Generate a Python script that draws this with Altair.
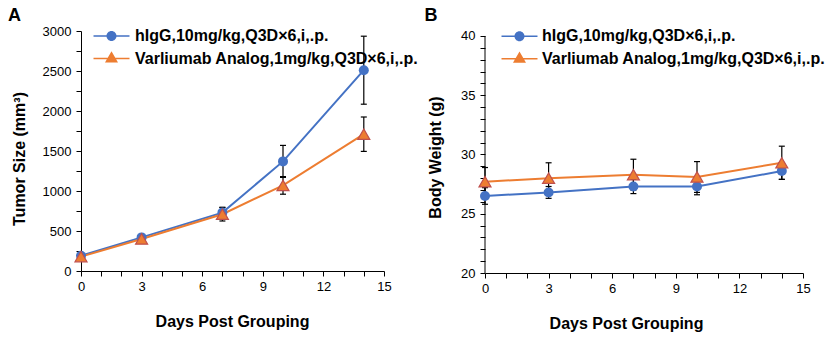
import altair as alt
import pandas as pd

# ---------------- data ----------------
days = [0, 3, 7, 10, 14]
series_names = ["hIgG,10mg/kg,Q3D×6,i,.p.", "Varliumab Analog,1mg/kg,Q3D×6,i,.p."]
series_colors = ["#4472C4", "#ED7D31"]

tumor_igg = [190, 420, 730, 1370, 2510]
tumor_igg_err = [25, 30, 65, 200, 425]
tumor_var = [180, 400, 710, 1070, 1710]
tumor_var_err = [20, 30, 85, 110, 215]

bw_igg = [26.5, 26.8, 27.3, 27.3, 28.6]
bw_igg_err = [0.7, 0.5, 0.6, 0.7, 0.7]
bw_var = [27.7, 28.0, 28.3, 28.1, 29.3]
bw_var_err = [1.2, 1.3, 1.3, 1.3, 1.4]

x_ticks = list(range(0, 16))
tumor_ticks = list(range(0, 3001, 250))
bw_ticks = list(range(20, 41))

FONT = "Liberation Sans"

# legend symbols: line + marker as one filled path
CIRC_PATH = ("M-1.6,-0.06H-0.3V0.06H-1.6Z M0.3,-0.06H1.6V0.06H0.3Z "
             "M-0.444,0A0.444 0.444 0 1 1 0.444,0A0.444 0.444 0 1 1 -0.444,0Z")
TRI_PATH = ("M-1.6,-0.06H-0.3V0.06H-1.6Z M0.3,-0.06H1.6V0.06H0.3Z "
            "M0,-0.65L0.578,0.356L-0.578,0.356Z")


def frame(a, ea, b, eb):
    rows = []
    for d, v, e in zip(days, a, ea):
        rows.append({"day": d, "value": v, "lo": v - e, "hi": v + e, "series": series_names[0]})
    for d, v, e in zip(days, b, eb):
        rows.append({"day": d, "value": v, "lo": v - e, "hi": v + e, "series": series_names[1]})
    return pd.DataFrame(rows)


def panel(df, y_title, y_domain, y_scale_domain, y_ticks, label_step, width, height, letter,
          legend_x, legend_y, label_offset, x_title_x, y_title_y, y_title_pad, draw_axis_rule):
    base = alt.Chart(df)
    x = alt.X("day:Q", scale=alt.Scale(domain=[0, 15], nice=False),
              axis=alt.Axis(values=x_ticks, format="d",
                            labelExpr="datum.value % 3 == 0 ? datum.label : ''",
                            labelFlush=False, labelOverlap=False, labelPadding=4,
                            title="Days Post Grouping", titlePadding=20, titleX=x_title_x))
    yaxis = alt.Axis(values=y_ticks, format="d",
                     labelExpr=f"datum.value % {label_step} == 0 ? datum.label : ''",
                     labelFlush=False, labelOverlap=False, labelPadding=5,
                     domain=not draw_axis_rule,
                     title=y_title, titlePadding=y_title_pad, titleY=y_title_y)
    yscale = alt.Scale(domain=y_scale_domain, nice=False, zero=False)
    y = alt.Y("value:Q", scale=yscale, axis=yaxis)

    layers = []
    if draw_axis_rule:
        axis_df = pd.DataFrame({"day": [0], "lo": [y_domain[0]], "hi": [y_domain[1]]})
        layers.append(alt.Chart(axis_df).mark_rule(color="black", strokeWidth=1).encode(
            x=x, y=alt.Y("lo:Q", scale=yscale, axis=yaxis), y2="hi:Q"))

    for name, col in zip(series_names, series_colors):
        layers.append(base.transform_filter(alt.datum.series == name)
                      .mark_line(color=col, strokeWidth=2).encode(x=x, y=y))
    layers.append(base.mark_errorbar(
        ticks=alt.MarkConfig(color="black", opacity=1, strokeWidth=1.2),
        rule=alt.MarkConfig(color="black", opacity=1, strokeWidth=1.2),
        size=6, thickness=1.2, color="black").encode(
        x=x, y=alt.Y("lo:Q", scale=yscale, axis=yaxis), y2="hi:Q"))
    layers.append(base.transform_filter(alt.datum.series == series_names[0]).mark_point(
        shape="circle", filled=True, size=100, color=series_colors[0], opacity=1).encode(x=x, y=y))
    layers.append(base.transform_filter(alt.datum.series == series_names[1]).mark_point(
        shape="triangle-up", filled=True, size=144, fill=series_colors[1], stroke="#C0504D",
        strokeWidth=1.2, opacity=1).encode(x=x, y=y))

    leg = alt.Legend(orient="none", legendX=legend_x, legendY=legend_y, title=None,
                     labelFont=FONT, labelFontSize=16, labelFontWeight="bold", labelColor="black",
                     labelLimit=500, labelOffset=label_offset, symbolSize=506,
                     symbolStrokeWidth=0, symbolOpacity=1, padding=0, rowPadding=2.5)
    layers.append(base.transform_filter("false").mark_point(filled=True, opacity=1).encode(
        color=alt.Color("series:N", scale=alt.Scale(domain=series_names, range=series_colors), legend=leg),
        shape=alt.Shape("series:N", scale=alt.Scale(domain=series_names, range=[CIRC_PATH, TRI_PATH]), legend=leg),
    ))

    return alt.layer(*layers).properties(
        width=width, height=height,
        title=alt.Title(letter, anchor="start", frame="bounds", fontSize=18, fontWeight="bold",
                        font=FONT, color="black", offset=0, dx=-3),
    )


dfA = frame(tumor_igg, tumor_igg_err, tumor_var, tumor_var_err)
dfB = frame(bw_igg, bw_igg_err, bw_var, bw_var_err)

pA = panel(dfA, "Tumor Size (mm³)", [0, 3000], [0, 3000], tumor_ticks, 500, 303, 240, "A",
           legend_x=19, legend_y=-6.5, label_offset=12,
           x_title_x=151, y_title_y=127.5, y_title_pad=15, draw_axis_rule=False)
pB = panel(dfB, "Body Weight (g)", [20, 40], [20, 40.42], bw_ticks, 5, 318, 242, "B",
           legend_x=23, legend_y=-6.3, label_offset=11,
           x_title_x=141, y_title_y=126, y_title_pad=17, draw_axis_rule=True)

chart = alt.hconcat(pA, pB, spacing=5).resolve_scale(
    color="independent", shape="independent"
).resolve_legend(color="independent", shape="independent").properties(
    padding={"left": 8, "top": 6, "right": 5, "bottom": 5}
).configure_view(stroke=None).configure_axis(
    grid=False, domainColor="black", tickColor="black", domainWidth=1, tickWidth=1, tickSize=5,
    labelFont=FONT, labelFontSize=13, labelColor="black",
    titleFont=FONT, titleFontSize=16, titleFontWeight="bold", titleColor="black",
)

chart.save("out.html", embed_options={"renderer": "svg", "actions": False})
